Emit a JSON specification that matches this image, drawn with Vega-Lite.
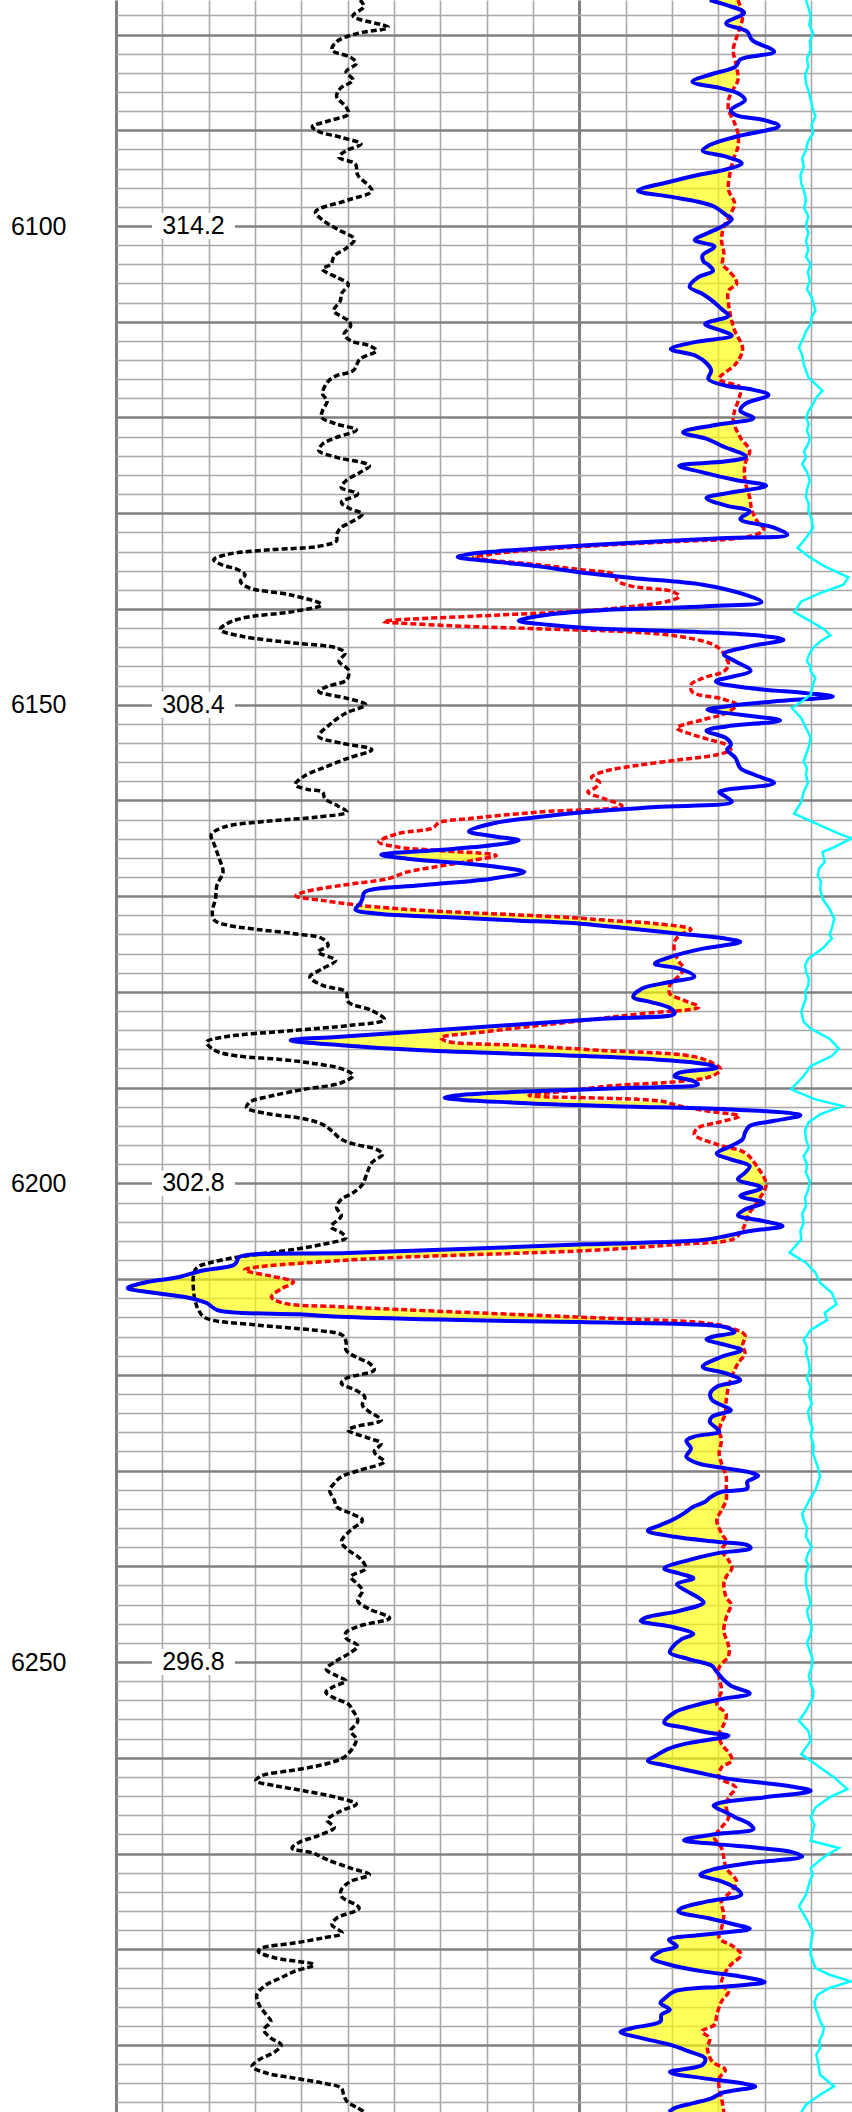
{
"$schema":"https://vega.github.io/schema/vega-lite/v6.json",
"width":736,"height":2112,
"padding":{"left":116,"top":0,"right":0,"bottom":0},
"autosize":{"type":"none"},
"background":"white",
"config":{"view":{"stroke":null}},
"datasets":{
"tvd":[{"depth":6100,"t":"314.2"},{"depth":6150,"t":"308.4"},{"depth":6200,"t":"302.8"},{"depth":6250,"t":"296.8"}],
"gr":[
{"depth":6076.39,"v":520},{"depth":6077.09,"v":528},{"depth":6078.06,"v":505},{"depth":6079.25,"v":580},{"depth":6079.87,"v":515},{"depth":6080.74,"v":470},{"depth":6081.61,"v":460},{"depth":6082.38,"v":500},{"depth":6083.01,"v":512},{"depth":6083.88,"v":490},{"depth":6084.75,"v":505},{"depth":6085.62,"v":478},{"depth":6086.49,"v":470},{"depth":6087.53,"v":490},{"depth":6088.30,"v":495},{"depth":6088.99,"v":455},{"depth":6089.62,"v":418},{"depth":6090.14,"v":432},{"depth":6090.74,"v":480},{"depth":6091.43,"v":522},{"depth":6092.13,"v":490},{"depth":6092.82,"v":475},{"depth":6093.52,"v":510},{"depth":6094.67,"v":515},{"depth":6096.31,"v":545},{"depth":6097.28,"v":495},{"depth":6098.50,"v":425},{"depth":6099.37,"v":440},{"depth":6100.42,"v":475},{"depth":6101.39,"v":508},{"depth":6102.33,"v":490},{"depth":6103.13,"v":465},
{"depth":6103.97,"v":458},{"depth":6104.49,"v":440},{"depth":6105.36,"v":470},{"depth":6106.06,"v":495},{"depth":6107.10,"v":480},{"depth":6107.80,"v":478},{"depth":6108.84,"v":464},{"depth":6109.89,"v":495},{"depth":6110.41,"v":500},{"depth":6111.28,"v":486},{"depth":6111.98,"v":500},{"depth":6112.50,"v":540},{"depth":6113.02,"v":555},{"depth":6113.89,"v":520},{"depth":6115.11,"v":505},{"depth":6115.63,"v":470},{"depth":6116.33,"v":450},{"depth":6117.55,"v":440},{"depth":6118.25,"v":450},{"depth":6119.29,"v":440},{"depth":6119.99,"v":438},{"depth":6120.68,"v":470},{"depth":6121.31,"v":512},{"depth":6122.08,"v":470},{"depth":6122.77,"v":440},{"depth":6123.47,"v":432},{"depth":6124.16,"v":470},{"depth":6125.04,"v":540},{"depth":6125.73,"v":520},{"depth":6126.60,"v":490},{"depth":6127.30,"v":480},{"depth":6127.99,"v":515},{"depth":6128.87,"v":480},{"depth":6129.56,"v":500},{"depth":6130.08,"v":525},{"depth":6130.95,"v":500},
{"depth":6131.55,"v":478},{"depth":6132.25,"v":470},{"depth":6132.87,"v":470},{"depth":6133.47,"v":430},{"depth":6133.81,"v":330},{"depth":6134.27,"v":240},{"depth":6134.86,"v":208},{"depth":6135.38,"v":225},{"depth":6135.90,"v":260},{"depth":6136.42,"v":275},{"depth":6137.12,"v":265},{"depth":6137.82,"v":285},{"depth":6138.51,"v":370},{"depth":6139.56,"v":438},{"depth":6140.25,"v":380},{"depth":6140.95,"v":270},{"depth":6141.65,"v":232},{"depth":6142.17,"v":222},{"depth":6142.87,"v":270},{"depth":6143.56,"v":380},{"depth":6144.08,"v":470},{"depth":6144.61,"v":488},{"depth":6145.48,"v":475},{"depth":6146.35,"v":495},{"depth":6147.39,"v":492},{"depth":6148.09,"v":450},{"depth":6148.61,"v":432},{"depth":6149.31,"v":490},{"depth":6150.00,"v":532},{"depth":6150.87,"v":490},{"depth":6152.09,"v":455},{"depth":6153.31,"v":432},{"depth":6154.01,"v":480},{"depth":6154.70,"v":545},{"depth":6155.58,"v":495},{"depth":6156.62,"v":440},{"depth":6157.49,"v":400},{"depth":6158.36,"v":382},{"depth":6158.87,"v":410},
{"depth":6159.12,"v":440},{"depth":6159.82,"v":445},{"depth":6160.51,"v":470},{"depth":6161.21,"v":492},{"depth":6161.73,"v":430},{"depth":6162.18,"v":320},{"depth":6162.78,"v":230},{"depth":6163.58,"v":203},{"depth":6164.69,"v":210},{"depth":6166.08,"v":220},{"depth":6167.48,"v":228},{"depth":6168.87,"v":215},{"depth":6170.26,"v":212},{"depth":6171.65,"v":205},{"depth":6172.53,"v":210},{"depth":6173.05,"v":240},{"depth":6173.47,"v":300},{"depth":6173.92,"v":380},{"depth":6174.44,"v":440},{"depth":6175.14,"v":452},{"depth":6175.83,"v":430},{"depth":6176.70,"v":468},{"depth":6177.57,"v":440},{"depth":6178.44,"v":413},{"depth":6179.31,"v":440},{"depth":6180.01,"v":490},{"depth":6181.06,"v":495},{"depth":6181.93,"v":545},{"depth":6182.90,"v":572},{"depth":6183.49,"v":500},{"depth":6184.02,"v":380},{"depth":6184.71,"v":230},{"depth":6185.23,"v":193},{"depth":6186.10,"v":210},
{"depth":6186.70,"v":260},{"depth":6187.05,"v":350},{"depth":6187.47,"v":420},{"depth":6188.02,"v":480},{"depth":6188.72,"v":505},{"depth":6189.49,"v":480},{"depth":6190.18,"v":400},{"depth":6190.88,"v":330},{"depth":6191.51,"v":285},{"depth":6192.10,"v":278},{"depth":6192.69,"v":320},{"depth":6193.25,"v":400},{"depth":6193.84,"v":440},{"depth":6194.53,"v":460},{"depth":6195.40,"v":480},{"depth":6195.93,"v":510},{"depth":6196.45,"v":555},{"depth":6196.97,"v":568},{"depth":6197.84,"v":545},{"depth":6198.89,"v":535},{"depth":6200.11,"v":525},{"depth":6200.98,"v":505},{"depth":6201.67,"v":480},{"depth":6202.54,"v":470},{"depth":6203.41,"v":480},{"depth":6204.53,"v":458},{"depth":6205.15,"v":480},{"depth":6205.68,"v":490},{"depth":6206.37,"v":440},{"depth":6206.89,"v":380},{"depth":6207.42,"v":300},{"depth":6207.77,"v":250},{"depth":6208.29,"v":200},{"depth":6208.81,"v":172},{"depth":6209.68,"v":165},{"depth":6211.07,"v":165},{"depth":6212.12,"v":168},{"depth":6213.16,"v":175},{"depth":6214.03,"v":190},
{"depth":6214.80,"v":300},{"depth":6215.32,"v":420},{"depth":6215.85,"v":482},{"depth":6216.54,"v":490},{"depth":6217.41,"v":490},{"depth":6218.11,"v":510},{"depth":6218.81,"v":540},{"depth":6219.50,"v":550},{"depth":6220.37,"v":490},{"depth":6220.90,"v":480},{"depth":6221.59,"v":510},{"depth":6222.29,"v":530},{"depth":6223.16,"v":525},{"depth":6223.86,"v":540},{"depth":6224.73,"v":565},{"depth":6225.42,"v":510},{"depth":6225.77,"v":494},{"depth":6226.64,"v":540},{"depth":6227.16,"v":565},{"depth":6228.03,"v":550},{"depth":6228.56,"v":560},{"depth":6229.08,"v":572},{"depth":6229.95,"v":520},{"depth":6230.64,"v":480},{"depth":6231.34,"v":465},{"depth":6232.04,"v":455},{"depth":6233.08,"v":465},{"depth":6233.78,"v":470},{"depth":6234.47,"v":500},{"depth":6235.17,"v":525},{"depth":6236.22,"v":500},{"depth":6237.43,"v":480},{"depth":6238.31,"v":495},{"depth":6239.18,"v":520},{"depth":6240.22,"v":532},{"depth":6241.09,"v":500},
{"depth":6241.86,"v":515},{"depth":6242.56,"v":525},{"depth":6243.60,"v":515},{"depth":6244.47,"v":540},{"depth":6245.41,"v":583},{"depth":6246.21,"v":520},{"depth":6246.91,"v":490},{"depth":6247.50,"v":490},{"depth":6248.30,"v":515},{"depth":6249.00,"v":500},{"depth":6249.87,"v":470},{"depth":6250.74,"v":448},{"depth":6251.44,"v":470},{"depth":6251.96,"v":490},{"depth":6252.65,"v":460},{"depth":6253.18,"v":447},{"depth":6253.87,"v":470},{"depth":6254.39,"v":495},{"depth":6255.09,"v":505},{"depth":6256.20,"v":515},{"depth":6257.18,"v":500},{"depth":6258.05,"v":512},{"depth":6258.92,"v":505},{"depth":6259.79,"v":490},{"depth":6260.31,"v":470},{"depth":6260.84,"v":430},{"depth":6261.36,"v":370},{"depth":6261.88,"v":310},{"depth":6262.40,"v":298},{"depth":6262.93,"v":340},{"depth":6263.45,"v":400},{"depth":6264.14,"v":470},{"depth":6264.84,"v":512},{"depth":6265.54,"v":480},{"depth":6266.51,"v":450},{"depth":6267.28,"v":465},{"depth":6268.15,"v":430},{"depth":6268.84,"v":390},
{"depth":6269.43,"v":375},{"depth":6269.95,"v":420},{"depth":6270.65,"v":450},{"depth":6271.52,"v":500},{"depth":6272.22,"v":540},{"depth":6272.91,"v":500},{"depth":6273.78,"v":480},{"depth":6274.48,"v":480},{"depth":6275.70,"v":518},{"depth":6276.74,"v":470},{"depth":6277.44,"v":460},{"depth":6278.31,"v":482},{"depth":6278.83,"v":440},{"depth":6279.35,"v":380},{"depth":6279.88,"v":310},{"depth":6280.22,"v":303},{"depth":6280.92,"v":340},{"depth":6281.62,"v":422},{"depth":6282.31,"v":380},{"depth":6283.01,"v":350},{"depth":6283.71,"v":320},{"depth":6284.75,"v":300},{"depth":6285.79,"v":305},{"depth":6286.84,"v":320},{"depth":6287.54,"v":330},{"depth":6288.41,"v":315},{"depth":6289.28,"v":330},{"depth":6289.97,"v":352},{"depth":6290.67,"v":340},{"depth":6291.54,"v":305},{"depth":6292.24,"v":290},{"depth":6292.93,"v":320},{"depth":6293.46,"v":380},{"depth":6293.98,"v":440},{"depth":6294.50,"v":480},{"depth":6295.20,"v":485},{"depth":6295.89,"v":492},{"depth":6296.59,"v":515},{"depth":6297.00,"v":530}
],
"blue":[
{"depth":6076.39,"v":1265,"edge":1325},{"depth":6076.91,"v":1300,"edge":1330},{"depth":6077.71,"v":1338,"edge":1338},{"depth":6078.83,"v":1300,"edge":1330},{"depth":6079.70,"v":1345,"edge":1345},{"depth":6080.57,"v":1355,"edge":1355},{"depth":6081.79,"v":1402,"edge":1402},{"depth":6082.59,"v":1330,"edge":1330},{"depth":6083.35,"v":1320,"edge":1322},{"depth":6084.12,"v":1270,"edge":1324},{"depth":6084.92,"v":1228,"edge":1325},{"depth":6085.62,"v":1290,"edge":1315},{"depth":6086.14,"v":1325,"edge":1325},{"depth":6086.84,"v":1340,"edge":1340},{"depth":6087.88,"v":1310,"edge":1310},{"depth":6088.40,"v":1320,"edge":1320},{"depth":6088.92,"v":1380,"edge":1380},{"depth":6089.55,"v":1412,"edge":1412},{"depth":6090.67,"v":1320,"edge":1325},{"depth":6091.54,"v":1265,"edge":1325},{"depth":6092.13,"v":1250,"edge":1323},{"depth":6092.75,"v":1300,"edge":1318},{"depth":6093.45,"v":1333,"edge":1333},{"depth":6094.08,"v":1300,"edge":1310},{"depth":6094.67,"v":1240,"edge":1308},{"depth":6095.37,"v":1180,"edge":1306},{"depth":6096.31,"v":1112,"edge":1305},{"depth":6096.93,"v":1180,"edge":1310},{"depth":6097.46,"v":1240,"edge":1316},{"depth":6097.98,"v":1275,"edge":1318},{"depth":6098.85,"v":1300,"edge":1308},{"depth":6099.30,"v":1312,"edge":1312},{"depth":6100.07,"v":1290,"edge":1295},{"depth":6100.76,"v":1260,"edge":1292},{"depth":6101.46,"v":1233,"edge":1290},{"depth":6102.16,"v":1275,"edge":1292},{"depth":6103.03,"v":1250,"edge":1295},{"depth":6103.72,"v":1252,"edge":1298},
{"depth":6103.97,"v":1260,"edge":1290},{"depth":6104.67,"v":1272,"edge":1305},{"depth":6105.36,"v":1240,"edge":1320},{"depth":6106.34,"v":1222,"edge":1318},{"depth":6107.10,"v":1250,"edge":1305},{"depth":6107.87,"v":1272,"edge":1305},{"depth":6108.67,"v":1290,"edge":1307},{"depth":6109.37,"v":1305,"edge":1310},{"depth":6110.24,"v":1255,"edge":1314},{"depth":6110.93,"v":1290,"edge":1318},{"depth":6111.46,"v":1312,"edge":1322},{"depth":6112.15,"v":1230,"edge":1328},{"depth":6112.85,"v":1182,"edge":1335},{"depth":6113.55,"v":1235,"edge":1330},{"depth":6114.42,"v":1260,"edge":1320},{"depth":6115.11,"v":1268,"edge":1305},{"depth":6115.98,"v":1262,"edge":1285},{"depth":6116.68,"v":1300,"edge":1322},{"depth":6117.03,"v":1350,"edge":1350},{"depth":6117.65,"v":1390,"edge":1390},{"depth":6118.59,"v":1340,"edge":1340},{"depth":6119.29,"v":1330,"edge":1330},{"depth":6120.06,"v":1358,"edge":1358},{"depth":6120.75,"v":1280,"edge":1318},{"depth":6121.55,"v":1208,"edge":1325},{"depth":6122.25,"v":1260,"edge":1332},{"depth":6122.95,"v":1290,"edge":1340},{"depth":6124.10,"v":1342,"edge":1348},{"depth":6124.58,"v":1300,"edge":1345},{"depth":6125.04,"v":1200,"edge":1340},{"depth":6125.73,"v":1250,"edge":1340},{"depth":6126.53,"v":1320,"edge":1340},{"depth":6127.12,"v":1385,"edge":1385},{"depth":6127.93,"v":1300,"edge":1345},{"depth":6128.41,"v":1258,"edge":1350},{"depth":6129.21,"v":1300,"edge":1352},{"depth":6129.81,"v":1350,"edge":1355},{"depth":6130.61,"v":1330,"edge":1362},{"depth":6131.48,"v":1400,"edge":1400},
{"depth":6132.25,"v":1430,"edge":1430},{"depth":6132.59,"v":1300,"edge":1330},{"depth":6132.94,"v":1150,"edge":1200},{"depth":6133.29,"v":1020,"edge":1060},{"depth":6133.64,"v":910,"edge":950},{"depth":6133.99,"v":810,"edge":850},{"depth":6134.34,"v":745,"edge":790},{"depth":6134.58,"v":728,"edge":765},{"depth":6135.03,"v":800,"edge":830},{"depth":6135.55,"v":900,"edge":900},{"depth":6136.25,"v":1000,"edge":1000},{"depth":6136.77,"v":1100,"edge":1100},{"depth":6137.47,"v":1250,"edge":1250},{"depth":6138.51,"v":1340,"edge":1340},{"depth":6139.28,"v":1375,"edge":1375},{"depth":6139.73,"v":1250,"edge":1250},{"depth":6140.08,"v":1050,"edge":1050},{"depth":6140.60,"v":920,"edge":920},{"depth":6141.23,"v":858,"edge":858},{"depth":6141.65,"v":920,"edge":920},{"depth":6141.99,"v":1000,"edge":1000},{"depth":6142.34,"v":1200,"edge":1200},{"depth":6142.69,"v":1350,"edge":1350},{"depth":6143.21,"v":1422,"edge":1422},{"depth":6143.91,"v":1350,"edge":1350},{"depth":6144.71,"v":1295,"edge":1305},{"depth":6145.48,"v":1320,"edge":1320},{"depth":6146.45,"v":1352,"edge":1352},{"depth":6147.57,"v":1278,"edge":1278},{"depth":6148.26,"v":1350,"edge":1350},{"depth":6148.79,"v":1470,"edge":1470},{"depth":6149.13,"v":1527,"edge":1527},{"depth":6149.66,"v":1400,"edge":1400},{"depth":6150.18,"v":1300,"edge":1320},{"depth":6150.53,"v":1260,"edge":1315},{"depth":6151.05,"v":1330,"edge":1330},{"depth":6151.64,"v":1415,"edge":1415},{"depth":6152.27,"v":1300,"edge":1300},{"depth":6152.72,"v":1258,"edge":1258},{"depth":6153.49,"v":1300,"edge":1300},{"depth":6154.18,"v":1310,"edge":1310},{"depth":6154.70,"v":1302,"edge":1302},{"depth":6155.58,"v":1320,"edge":1320},{"depth":6156.62,"v":1330,"edge":1330},{"depth":6157.32,"v":1360,"edge":1360},{"depth":6158.19,"v":1402,"edge":1402},{"depth":6158.88,"v":1300,"edge":1300},
{"depth":6159.12,"v":1285,"edge":1285},{"depth":6159.64,"v":1300,"edge":1300},{"depth":6160.16,"v":1312,"edge":1312},{"depth":6160.69,"v":1150,"edge":1150},{"depth":6161.21,"v":1000,"edge":1000},{"depth":6161.73,"v":900,"edge":900},{"depth":6162.43,"v":800,"edge":800},{"depth":6163.23,"v":752,"edge":752},{"depth":6163.72,"v":800,"edge":800},{"depth":6164.17,"v":858,"edge":858},{"depth":6164.69,"v":800,"edge":800},{"depth":6165.21,"v":680,"edge":680},{"depth":6165.67,"v":565,"edge":790},{"depth":6166.08,"v":620,"edge":770},{"depth":6166.61,"v":750,"edge":750},{"depth":6167.13,"v":840,"edge":840},{"depth":6167.48,"v":870,"edge":870},{"depth":6168.17,"v":800,"edge":800},{"depth":6168.87,"v":650,"edge":650},{"depth":6169.57,"v":530,"edge":530},{"depth":6170.26,"v":525,"edge":525},{"depth":6170.78,"v":520,"edge":520},{"depth":6171.38,"v":510,"edge":650},{"depth":6171.83,"v":560,"edge":800},{"depth":6172.18,"v":700,"edge":950},{"depth":6172.53,"v":850,"edge":1050},{"depth":6172.87,"v":990,"edge":1150},{"depth":6173.40,"v":1100,"edge":1220},{"depth":6173.92,"v":1200,"edge":1210},{"depth":6174.44,"v":1300,"edge":1300},{"depth":6174.79,"v":1330,"edge":1330},{"depth":6175.48,"v":1250,"edge":1250},{"depth":6176.36,"v":1180,"edge":1190},{"depth":6177.05,"v":1148,"edge":1202},{"depth":6177.57,"v":1200,"edge":1210},{"depth":6178.38,"v":1232,"edge":1232},{"depth":6178.97,"v":1180,"edge":1185},{"depth":6179.66,"v":1120,"edge":1180},{"depth":6180.53,"v":1102,"edge":1195},{"depth":6181.06,"v":1140,"edge":1215},{"depth":6181.68,"v":1180,"edge":1240},{"depth":6182.27,"v":1190,"edge":1190},{"depth":6182.80,"v":1037,"edge":1037},{"depth":6183.49,"v":832,"edge":905},{"depth":6184.19,"v":627,"edge":782},{"depth":6184.71,"v":470,"edge":695},{"depth":6185.06,"v":372,"edge":695},{"depth":6185.58,"v":480,"edge":860},{"depth":6186.10,"v":650,"edge":1030},
{"depth":6186.70,"v":1000,"edge":1225},{"depth":6187.05,"v":1150,"edge":1255},{"depth":6187.57,"v":1260,"edge":1275},{"depth":6187.92,"v":1280,"edge":1285},{"depth":6188.44,"v":1200,"edge":1280},{"depth":6188.79,"v":1190,"edge":1270},{"depth":6189.31,"v":1230,"edge":1230},{"depth":6189.66,"v":1240,"edge":1240},{"depth":6190.01,"v":1100,"edge":1100},{"depth":6190.36,"v":900,"edge":960},{"depth":6190.70,"v":750,"edge":910},{"depth":6191.05,"v":700,"edge":920},{"depth":6191.57,"v":850,"edge":1170},{"depth":6191.92,"v":1050,"edge":1200},{"depth":6192.27,"v":1300,"edge":1300},{"depth":6192.62,"v":1430,"edge":1430},{"depth":6192.90,"v":1458,"edge":1458},{"depth":6193.49,"v":1400,"edge":1400},{"depth":6194.01,"v":1350,"edge":1350},{"depth":6194.71,"v":1340,"edge":1340},{"depth":6195.40,"v":1335,"edge":1335},{"depth":6196.10,"v":1310,"edge":1310},{"depth":6196.90,"v":1280,"edge":1340},{"depth":6197.49,"v":1310,"edge":1352},{"depth":6198.19,"v":1350,"edge":1365},{"depth":6198.89,"v":1340,"edge":1372},{"depth":6199.58,"v":1325,"edge":1380},{"depth":6200.45,"v":1375,"edge":1384},{"depth":6201.32,"v":1330,"edge":1373},{"depth":6202.02,"v":1380,"edge":1380},{"depth":6202.72,"v":1340,"edge":1355},{"depth":6203.34,"v":1325,"edge":1348},{"depth":6203.94,"v":1380,"edge":1380},{"depth":6204.46,"v":1420,"edge":1420},{"depth":6204.98,"v":1350,"edge":1350},{"depth":6205.50,"v":1300,"edge":1322},{"depth":6205.92,"v":1250,"edge":1305},{"depth":6206.37,"v":1000,"edge":1200},{"depth":6206.83,"v":750,"edge":1027},{"depth":6207.28,"v":494,"edge":867},{"depth":6207.70,"v":262,"edge":654},{"depth":6208.11,"v":258,"edge":470},{"depth":6208.53,"v":251,"edge":384},{"depth":6209.16,"v":180,"edge":285},{"depth":6209.78,"v":135,"edge":335},{"depth":6210.38,"v":60,"edge":378},{"depth":6210.93,"v":25,"edge":359},{"depth":6211.42,"v":80,"edge":345},{"depth":6211.87,"v":147,"edge":331},{"depth":6212.50,"v":193,"edge":356},{"depth":6213.23,"v":216,"edge":660},{"depth":6213.68,"v":390,"edge":850},{"depth":6213.96,"v":494,"edge":980},{"depth":6214.28,"v":737,"edge":1100},
{"depth":6214.49,"v":988,"edge":1210},{"depth":6214.80,"v":1259,"edge":1280},{"depth":6215.05,"v":1300,"edge":1305},{"depth":6215.53,"v":1318,"edge":1335},{"depth":6216.02,"v":1270,"edge":1345},{"depth":6216.30,"v":1258,"edge":1343},{"depth":6216.89,"v":1300,"edge":1335},{"depth":6217.41,"v":1332,"edge":1338},{"depth":6218.11,"v":1290,"edge":1335},{"depth":6219.15,"v":1250,"edge":1323},{"depth":6219.85,"v":1300,"edge":1315},{"depth":6220.55,"v":1330,"edge":1330},{"depth":6221.24,"v":1280,"edge":1305},{"depth":6221.94,"v":1266,"edge":1302},{"depth":6222.64,"v":1270,"edge":1300},{"depth":6223.16,"v":1290,"edge":1300},{"depth":6223.68,"v":1310,"edge":1310},{"depth":6224.38,"v":1270,"edge":1296},{"depth":6224.90,"v":1265,"edge":1292},{"depth":6225.60,"v":1280,"edge":1287},{"depth":6225.94,"v":1285,"edge":1285},{"depth":6226.47,"v":1230,"edge":1288},{"depth":6226.88,"v":1215,"edge":1290},{"depth":6227.69,"v":1225,"edge":1288},{"depth":6228.56,"v":1215,"edge":1285},{"depth":6229.25,"v":1240,"edge":1290},{"depth":6229.77,"v":1300,"edge":1300},{"depth":6230.19,"v":1350,"edge":1350},{"depth":6230.54,"v":1368,"edge":1368},{"depth":6231.17,"v":1345,"edge":1345},{"depth":6231.86,"v":1345,"edge":1345},{"depth":6232.21,"v":1290,"edge":1300},{"depth":6232.73,"v":1268,"edge":1300},{"depth":6233.26,"v":1255,"edge":1298},{"depth":6233.78,"v":1230,"edge":1293},{"depth":6234.47,"v":1210,"edge":1288},{"depth":6235.17,"v":1185,"edge":1280},{"depth":6235.69,"v":1160,"edge":1283},{"depth":6236.29,"v":1133,"edge":1287},{"depth":6236.91,"v":1190,"edge":1293},{"depth":6237.43,"v":1280,"edge":1300},{"depth":6237.78,"v":1345,"edge":1345},{"depth":6238.10,"v":1352,"edge":1352},{"depth":6238.65,"v":1280,"edge":1295},{"depth":6239.35,"v":1220,"edge":1305},{"depth":6240.22,"v":1168,"edge":1312},{"depth":6240.74,"v":1200,"edge":1305},{"depth":6241.26,"v":1230,"edge":1300},
{"depth":6241.86,"v":1195,"edge":1295},{"depth":6242.56,"v":1215,"edge":1297},{"depth":6243.25,"v":1240,"edge":1300},{"depth":6243.78,"v":1252,"edge":1308},{"depth":6244.65,"v":1200,"edge":1305},{"depth":6245.34,"v":1130,"edge":1300},{"depth":6245.69,"v":1118,"edge":1300},{"depth":6246.39,"v":1190,"edge":1297},{"depth":6247.08,"v":1230,"edge":1297},{"depth":6247.61,"v":1205,"edge":1300},{"depth":6248.48,"v":1185,"edge":1305},{"depth":6249.00,"v":1180,"edge":1305},{"depth":6249.69,"v":1220,"edge":1302},{"depth":6250.39,"v":1270,"edge":1290},{"depth":6250.91,"v":1278,"edge":1285},{"depth":6251.61,"v":1290,"edge":1290},{"depth":6252.48,"v":1310,"edge":1310},{"depth":6253.28,"v":1350,"edge":1350},{"depth":6253.87,"v":1290,"edge":1290},{"depth":6254.57,"v":1230,"edge":1280},{"depth":6255.27,"v":1190,"edge":1296},{"depth":6256.31,"v":1168,"edge":1296},{"depth":6256.83,"v":1210,"edge":1292},{"depth":6257.35,"v":1260,"edge":1288},{"depth":6257.70,"v":1305,"edge":1305},{"depth":6258.22,"v":1250,"edge":1288},{"depth":6258.57,"v":1210,"edge":1290},{"depth":6259.10,"v":1175,"edge":1298},{"depth":6259.79,"v":1150,"edge":1308},{"depth":6260.31,"v":1133,"edge":1312},{"depth":6260.84,"v":1175,"edge":1295},{"depth":6261.53,"v":1240,"edge":1287},{"depth":6262.23,"v":1310,"edge":1310},{"depth":6262.93,"v":1430,"edge":1430},{"depth":6263.45,"v":1480,"edge":1480},{"depth":6264.14,"v":1380,"edge":1380},{"depth":6264.67,"v":1290,"edge":1302},{"depth":6265.01,"v":1273,"edge":1300},{"depth":6265.71,"v":1300,"edge":1302},{"depth":6266.23,"v":1320,"edge":1320},{"depth":6266.93,"v":1350,"edge":1350},{"depth":6267.45,"v":1358,"edge":1358},{"depth":6267.97,"v":1280,"edge":1282},{"depth":6268.60,"v":1210,"edge":1275},{"depth":6269.02,"v":1280,"edge":1280},
{"depth":6269.43,"v":1370,"edge":1370},{"depth":6269.85,"v":1440,"edge":1440},{"depth":6270.30,"v":1462,"edge":1462},{"depth":6271.00,"v":1350,"edge":1350},{"depth":6271.69,"v":1270,"edge":1300},{"depth":6272.22,"v":1245,"edge":1310},{"depth":6272.91,"v":1290,"edge":1322},{"depth":6273.61,"v":1320,"edge":1320},{"depth":6274.30,"v":1332,"edge":1332},{"depth":6275.00,"v":1260,"edge":1290},{"depth":6275.70,"v":1205,"edge":1292},{"depth":6276.05,"v":1198,"edge":1294},{"depth":6276.74,"v":1260,"edge":1293},{"depth":6277.44,"v":1320,"edge":1320},{"depth":6277.86,"v":1350,"edge":1350},{"depth":6278.48,"v":1250,"edge":1287},{"depth":6279.01,"v":1178,"edge":1290},{"depth":6279.70,"v":1195,"edge":1315},{"depth":6280.22,"v":1160,"edge":1325},{"depth":6280.92,"v":1142,"edge":1330},{"depth":6281.62,"v":1180,"edge":1310},{"depth":6282.31,"v":1250,"edge":1300},{"depth":6282.84,"v":1330,"edge":1330},{"depth":6283.43,"v":1382,"edge":1382},{"depth":6283.88,"v":1300,"edge":1300},{"depth":6284.40,"v":1190,"edge":1305},{"depth":6285.10,"v":1170,"edge":1295},{"depth":6285.62,"v":1160,"edge":1290},{"depth":6286.32,"v":1180,"edge":1285},{"depth":6286.84,"v":1162,"edge":1280},{"depth":6287.54,"v":1160,"edge":1277},{"depth":6288.23,"v":1100,"edge":1260},{"depth":6288.65,"v":1075,"edge":1248},{"depth":6289.28,"v":1120,"edge":1265},{"depth":6289.97,"v":1180,"edge":1262},{"depth":6290.67,"v":1220,"edge":1262},{"depth":6291.37,"v":1255,"edge":1268},{"depth":6292.06,"v":1250,"edge":1285},{"depth":6292.83,"v":1180,"edge":1295},{"depth":6293.46,"v":1250,"edge":1285},{"depth":6293.98,"v":1330,"edge":1330},{"depth":6294.33,"v":1362,"edge":1362},{"depth":6295.02,"v":1290,"edge":1290},{"depth":6295.54,"v":1270,"edge":1290},{"depth":6296.07,"v":1230,"edge":1292},{"depth":6296.59,"v":1190,"edge":1294},{"depth":6297.01,"v":1178,"edge":1295}
],
"red":[
{"depth":6076.39,"v":1325},{"depth":6078.13,"v":1335},{"depth":6079.87,"v":1325},{"depth":6081.61,"v":1315},{"depth":6083.35,"v":1322},{"depth":6084.75,"v":1325},{"depth":6086.14,"v":1310},{"depth":6086.84,"v":1305},{"depth":6087.88,"v":1305},{"depth":6088.92,"v":1315},{"depth":6090.32,"v":1325},{"depth":6091.71,"v":1325},{"depth":6093.10,"v":1315},{"depth":6094.50,"v":1308},{"depth":6096.24,"v":1305},{"depth":6097.63,"v":1318},{"depth":6098.67,"v":1310},{"depth":6100.07,"v":1295},{"depth":6101.46,"v":1290},{"depth":6102.85,"v":1295},
{"depth":6103.97,"v":1292},{"depth":6104.67,"v":1305},{"depth":6105.54,"v":1320},{"depth":6106.06,"v":1322},{"depth":6106.76,"v":1305},{"depth":6108.15,"v":1305},{"depth":6109.54,"v":1310},{"depth":6110.93,"v":1318},{"depth":6112.85,"v":1335},{"depth":6114.42,"v":1320},{"depth":6115.98,"v":1285},{"depth":6116.85,"v":1330},{"depth":6117.90,"v":1328},{"depth":6119.29,"v":1318},{"depth":6120.34,"v":1315},{"depth":6122.08,"v":1330},{"depth":6123.47,"v":1350},{"depth":6124.86,"v":1340},{"depth":6126.60,"v":1340},{"depth":6128.34,"v":1350},{"depth":6129.74,"v":1355},{"depth":6131.13,"v":1370},
{"depth":6131.55,"v":1380},{"depth":6131.97,"v":1375},{"depth":6132.59,"v":1330},{"depth":6132.94,"v":1200},{"depth":6133.29,"v":1060},{"depth":6133.64,"v":950},{"depth":6133.99,"v":850},{"depth":6134.34,"v":790},{"depth":6134.61,"v":762},{"depth":6134.86,"v":790},{"depth":6135.38,"v":900},{"depth":6135.90,"v":990},{"depth":6136.42,"v":1062},{"depth":6137.05,"v":1068},{"depth":6137.64,"v":1100},{"depth":6138.17,"v":1185},{"depth":6138.69,"v":1200},{"depth":6139.14,"v":1180},{"depth":6139.73,"v":1100},{"depth":6140.18,"v":1000},{"depth":6140.67,"v":800},{"depth":6141.30,"v":570},{"depth":6141.72,"v":700},{"depth":6142.07,"v":900},{"depth":6142.41,"v":1100},{"depth":6142.87,"v":1200},{"depth":6143.67,"v":1270},{"depth":6144.36,"v":1290},{"depth":6145.13,"v":1300},{"depth":6145.83,"v":1305},{"depth":6146.52,"v":1295},{"depth":6147.22,"v":1250},{"depth":6147.91,"v":1225},{"depth":6148.68,"v":1228},{"depth":6149.38,"v":1290},{"depth":6150.00,"v":1322},{"depth":6150.87,"v":1300},{"depth":6151.57,"v":1250},{"depth":6152.44,"v":1195},{"depth":6153.07,"v":1225},{"depth":6153.66,"v":1265},{"depth":6154.18,"v":1300},{"depth":6154.70,"v":1310},{"depth":6155.23,"v":1280},{"depth":6155.75,"v":1200},{"depth":6156.34,"v":1110},{"depth":6156.97,"v":1040},{"depth":6157.59,"v":1013},{"depth":6158.08,"v":1030},{"depth":6158.64,"v":1022},
{"depth":6159.12,"v":1005},{"depth":6159.82,"v":1040},{"depth":6160.58,"v":1078},{"depth":6161.21,"v":900},{"depth":6161.91,"v":750},{"depth":6162.32,"v":688},{"depth":6162.88,"v":675},{"depth":6163.47,"v":600},{"depth":6164.34,"v":560},{"depth":6164.87,"v":600},{"depth":6165.21,"v":680},{"depth":6165.74,"v":810},{"depth":6166.26,"v":760},{"depth":6166.78,"v":700},{"depth":6167.48,"v":620},{"depth":6168.17,"v":580},{"depth":6168.87,"v":480},{"depth":6169.57,"v":400},{"depth":6169.98,"v":383},{"depth":6170.44,"v":440},{"depth":6170.96,"v":520},{"depth":6171.48,"v":650},{"depth":6171.83,"v":800},{"depth":6172.18,"v":950},{"depth":6172.53,"v":1050},{"depth":6172.87,"v":1150},{"depth":6173.47,"v":1225},{"depth":6174.09,"v":1200},{"depth":6174.79,"v":1190},{"depth":6175.83,"v":1190},{"depth":6176.88,"v":1200},{"depth":6177.57,"v":1210},{"depth":6178.27,"v":1200},{"depth":6179.31,"v":1180},{"depth":6180.19,"v":1180},{"depth":6180.88,"v":1210},{"depth":6181.58,"v":1242},{"depth":6182.27,"v":1120},{"depth":6182.80,"v":1027},{"depth":6183.49,"v":905},{"depth":6184.19,"v":782},{"depth":6184.78,"v":692},{"depth":6185.16,"v":705},{"depth":6185.58,"v":860},{"depth":6186.10,"v":1030},
{"depth":6186.70,"v":1225},{"depth":6187.40,"v":1270},{"depth":6188.09,"v":1288},{"depth":6188.79,"v":1270},{"depth":6189.31,"v":1210},{"depth":6189.83,"v":1050},{"depth":6190.36,"v":960},{"depth":6190.81,"v":880},{"depth":6191.40,"v":1160},{"depth":6191.92,"v":1200},{"depth":6192.45,"v":1260},{"depth":6192.97,"v":1328},{"depth":6193.66,"v":1280},{"depth":6194.19,"v":1240},{"depth":6194.88,"v":1232},{"depth":6195.93,"v":1280},{"depth":6196.80,"v":1340},{"depth":6198.19,"v":1365},{"depth":6200.11,"v":1385},{"depth":6201.67,"v":1370},{"depth":6203.07,"v":1350},{"depth":6204.81,"v":1335},{"depth":6205.68,"v":1320},{"depth":6206.02,"v":1300},{"depth":6206.37,"v":1200},{"depth":6206.96,"v":1027},{"depth":6208.01,"v":494},{"depth":6209.05,"v":274},{"depth":6209.68,"v":330},{"depth":6210.31,"v":378},{"depth":6211.07,"v":350},{"depth":6211.87,"v":331},{"depth":6212.50,"v":356},{"depth":6212.92,"v":494},{"depth":6213.96,"v":980},
{"depth":6214.59,"v":1258},{"depth":6214.98,"v":1300},{"depth":6215.85,"v":1340},{"depth":6216.89,"v":1335},{"depth":6217.76,"v":1340},{"depth":6218.81,"v":1325},{"depth":6219.85,"v":1315},{"depth":6221.24,"v":1305},{"depth":6222.64,"v":1300},{"depth":6224.03,"v":1298},{"depth":6225.77,"v":1285},{"depth":6226.81,"v":1290},{"depth":6228.21,"v":1285},{"depth":6229.25,"v":1290},{"depth":6230.64,"v":1300},{"depth":6231.69,"v":1300},{"depth":6233.08,"v":1300},{"depth":6234.13,"v":1290},{"depth":6235.17,"v":1280},{"depth":6236.56,"v":1290},{"depth":6237.43,"v":1300},{"depth":6238.31,"v":1290},{"depth":6239.35,"v":1305},{"depth":6240.22,"v":1312},{"depth":6241.09,"v":1300},
{"depth":6241.86,"v":1295},{"depth":6243.25,"v":1300},{"depth":6243.95,"v":1310},{"depth":6245.34,"v":1300},{"depth":6246.73,"v":1295},{"depth":6248.30,"v":1305},{"depth":6249.35,"v":1305},{"depth":6250.56,"v":1285},{"depth":6251.61,"v":1285},{"depth":6253.00,"v":1290},{"depth":6254.39,"v":1280},{"depth":6255.44,"v":1300},{"depth":6256.48,"v":1295},{"depth":6257.53,"v":1285},{"depth":6258.57,"v":1290},{"depth":6259.62,"v":1308},{"depth":6260.31,"v":1312},{"depth":6261.01,"v":1290},{"depth":6262.05,"v":1285},{"depth":6263.10,"v":1320},{"depth":6264.14,"v":1305},{"depth":6265.19,"v":1300},{"depth":6266.23,"v":1305},{"depth":6267.28,"v":1290},{"depth":6268.32,"v":1275},
{"depth":6269.43,"v":1290},{"depth":6270.47,"v":1295},{"depth":6271.52,"v":1300},{"depth":6272.91,"v":1322},{"depth":6273.96,"v":1310},{"depth":6275.00,"v":1290},{"depth":6276.39,"v":1295},{"depth":6277.79,"v":1290},{"depth":6278.83,"v":1285},{"depth":6279.70,"v":1315},{"depth":6280.57,"v":1332},{"depth":6281.62,"v":1310},{"depth":6282.66,"v":1295},{"depth":6283.71,"v":1290},{"depth":6284.40,"v":1305},{"depth":6285.45,"v":1290},{"depth":6286.84,"v":1280},{"depth":6287.88,"v":1275},{"depth":6288.58,"v":1248},{"depth":6289.28,"v":1265},{"depth":6290.32,"v":1260},{"depth":6291.72,"v":1270},{"depth":6292.59,"v":1298},{"depth":6293.46,"v":1285},{"depth":6294.50,"v":1285},{"depth":6295.54,"v":1290},{"depth":6297.01,"v":1295}
],
"cyan":[
{"depth":6076.39,"v":1470},{"depth":6077.3,"v":1476},{"depth":6078.13,"v":1480},{"depth":6079.0,"v":1477},{"depth":6079.87,"v":1485},{"depth":6080.7,"v":1478},{"depth":6081.61,"v":1480},{"depth":6082.5,"v":1472},{"depth":6083.35,"v":1475},{"depth":6084.2,"v":1468},{"depth":6085.09,"v":1470},{"depth":6086.0,"v":1476},{"depth":6086.84,"v":1480},{"depth":6087.7,"v":1484},{"depth":6088.58,"v":1490},{"depth":6089.4,"v":1482},{"depth":6090.32,"v":1485},{"depth":6091.2,"v":1474},{"depth":6092.06,"v":1470},{"depth":6092.9,"v":1462},{"depth":6093.80,"v":1465},{"depth":6094.7,"v":1458},{"depth":6095.54,"v":1460},{"depth":6096.4,"v":1466},{"depth":6097.28,"v":1470},{"depth":6098.1,"v":1466},{"depth":6099.02,"v":1475},{"depth":6099.9,"v":1470},{"depth":6100.76,"v":1475},{"depth":6101.6,"v":1470},{"depth":6102.50,"v":1475},{"depth":6103.2,"v":1470},
{"depth":6103.97,"v":1480},{"depth":6104.8,"v":1474},{"depth":6105.71,"v":1478},{"depth":6106.6,"v":1472},{"depth":6107.45,"v":1482},{"depth":6108.84,"v":1490},{"depth":6109.5,"v":1482},{"depth":6110.24,"v":1480},{"depth":6111.0,"v":1470},{"depth":6111.63,"v":1465},{"depth":6112.67,"v":1455},{"depth":6113.5,"v":1462},{"depth":6114.42,"v":1465},{"depth":6115.1,"v":1470},{"depth":6115.81,"v":1475},{"depth":6116.5,"v":1490},{"depth":6117.20,"v":1505},{"depth":6117.9,"v":1492},{"depth":6118.59,"v":1485},{"depth":6119.3,"v":1476},{"depth":6119.99,"v":1470},{"depth":6120.7,"v":1476},{"depth":6121.38,"v":1472},{"depth":6122.1,"v":1478},{"depth":6122.77,"v":1475},{"depth":6123.5,"v":1466},{"depth":6124.16,"v":1470},{"depth":6124.86,"v":1462},{"depth":6125.7,"v":1472},{"depth":6126.60,"v":1478},{"depth":6127.5,"v":1472},{"depth":6128.34,"v":1470},{"depth":6129.0,"v":1476},{"depth":6129.74,"v":1475},{"depth":6130.6,"v":1482},
{"depth":6131.55,"v":1485},{"depth":6132.59,"v":1470},{"depth":6133.64,"v":1452},{"depth":6134.68,"v":1480},{"depth":6135.55,"v":1510},{"depth":6136.70,"v":1560},{"depth":6137.47,"v":1550},{"depth":6138.34,"v":1500},{"depth":6139.21,"v":1460},{"depth":6140.32,"v":1445},{"depth":6141.30,"v":1480},{"depth":6142.17,"v":1510},{"depth":6142.76,"v":1522},{"depth":6143.4,"v":1500},{"depth":6144.08,"v":1485},{"depth":6144.8,"v":1476},{"depth":6145.48,"v":1472},{"depth":6146.0,"v":1480},{"depth":6146.52,"v":1480},{"depth":6147.2,"v":1490},{"depth":6147.91,"v":1485},{"depth":6148.96,"v":1480},{"depth":6149.7,"v":1460},{"depth":6150.35,"v":1440},{"depth":6151.40,"v":1460},{"depth":6152.44,"v":1470},{"depth":6153.0,"v":1476},{"depth":6153.49,"v":1480},{"depth":6154.53,"v":1475},{"depth":6155.2,"v":1470},{"depth":6155.92,"v":1465},{"depth":6156.6,"v":1472},{"depth":6157.32,"v":1470},{"depth":6158.2,"v":1474},
{"depth":6159.12,"v":1465},{"depth":6160.16,"v":1460},{"depth":6161.38,"v":1445},{"depth":6162.60,"v":1500},{"depth":6163.47,"v":1540},{"depth":6163.97,"v":1567},{"depth":6164.87,"v":1530},{"depth":6165.39,"v":1505},{"depth":6166.43,"v":1510},{"depth":6167.1,"v":1498},{"depth":6167.82,"v":1495},{"depth":6168.5,"v":1502},{"depth":6169.22,"v":1500},{"depth":6170.26,"v":1505},{"depth":6171.31,"v":1520},{"depth":6172.35,"v":1530},{"depth":6173.40,"v":1525},{"depth":6174.0,"v":1520},{"depth":6174.44,"v":1525},{"depth":6175.48,"v":1505},{"depth":6176.53,"v":1475},{"depth":6177.2,"v":1468},{"depth":6177.92,"v":1470},{"depth":6178.6,"v":1476},{"depth":6179.31,"v":1475},{"depth":6180.0,"v":1468},{"depth":6180.71,"v":1470},{"depth":6181.4,"v":1464},{"depth":6182.10,"v":1460},{"depth":6183.14,"v":1465},{"depth":6183.84,"v":1480},{"depth":6184.89,"v":1520},{"depth":6185.93,"v":1540},
{"depth":6186.70,"v":1525},{"depth":6187.74,"v":1480},{"depth":6188.79,"v":1465},{"depth":6190.18,"v":1438},{"depth":6191.23,"v":1490},{"depth":6191.92,"v":1548},{"depth":6192.79,"v":1500},{"depth":6193.66,"v":1475},{"depth":6194.5,"v":1468},{"depth":6195.40,"v":1470},{"depth":6196.3,"v":1476},{"depth":6197.15,"v":1465},{"depth":6198.0,"v":1472},{"depth":6198.89,"v":1470},{"depth":6199.8,"v":1478},{"depth":6200.63,"v":1475},{"depth":6201.5,"v":1468},{"depth":6202.37,"v":1470},{"depth":6203.2,"v":1462},{"depth":6204.11,"v":1465},{"depth":6205.0,"v":1458},{"depth":6205.85,"v":1460},{"depth":6207.24,"v":1435},{"depth":6208.29,"v":1470},{"depth":6209.33,"v":1490},{"depth":6210.38,"v":1500},{"depth":6211.42,"v":1525},{"depth":6212.64,"v":1535},{"depth":6213.51,"v":1510},
{"depth":6214.28,"v":1515},{"depth":6215.32,"v":1480},{"depth":6216.37,"v":1465},{"depth":6217.1,"v":1472},{"depth":6217.76,"v":1470},{"depth":6218.6,"v":1476},{"depth":6219.50,"v":1478},{"depth":6220.4,"v":1472},{"depth":6221.24,"v":1480},{"depth":6222.1,"v":1476},{"depth":6222.98,"v":1482},{"depth":6223.9,"v":1474},{"depth":6224.73,"v":1478},{"depth":6225.6,"v":1484},{"depth":6226.47,"v":1480},{"depth":6227.3,"v":1486},{"depth":6228.21,"v":1485},{"depth":6229.60,"v":1495},{"depth":6230.64,"v":1500},{"depth":6232.04,"v":1490},{"depth":6233.0,"v":1478},{"depth":6233.78,"v":1470},{"depth":6234.5,"v":1462},{"depth":6235.17,"v":1465},{"depth":6236.0,"v":1472},{"depth":6236.91,"v":1470},{"depth":6237.96,"v":1482},{"depth":6238.7,"v":1474},{"depth":6239.35,"v":1470},{"depth":6240.0,"v":1476},{"depth":6240.74,"v":1470},
{"depth":6241.86,"v":1470},{"depth":6242.90,"v":1475},{"depth":6243.95,"v":1480},{"depth":6244.6,"v":1472},{"depth":6245.34,"v":1475},{"depth":6246.2,"v":1482},{"depth":6247.08,"v":1480},{"depth":6248.0,"v":1472},{"depth":6248.82,"v":1478},{"depth":6249.7,"v":1484},{"depth":6250.56,"v":1482},{"depth":6251.4,"v":1476},{"depth":6252.31,"v":1480},{"depth":6253.0,"v":1486},{"depth":6253.70,"v":1485},{"depth":6255.09,"v":1470},{"depth":6256.14,"v":1455},{"depth":6257.18,"v":1475},{"depth":6258.22,"v":1480},{"depth":6259.62,"v":1460},{"depth":6261.01,"v":1500},{"depth":6262.05,"v":1530},{"depth":6263.27,"v":1558},{"depth":6264.14,"v":1520},{"depth":6265.19,"v":1490},{"depth":6266.23,"v":1480},{"depth":6267.0,"v":1488},{"depth":6267.62,"v":1485},{"depth":6268.67,"v":1480},
{"depth":6269.43,"v":1540},{"depth":6270.30,"v":1510},{"depth":6271.52,"v":1480},{"depth":6272.2,"v":1484},{"depth":6272.91,"v":1478},{"depth":6274.30,"v":1470},{"depth":6275.52,"v":1455},{"depth":6276.74,"v":1470},{"depth":6278.13,"v":1485},{"depth":6279.53,"v":1480},{"depth":6280.57,"v":1480},{"depth":6281.96,"v":1490},{"depth":6282.66,"v":1520},{"depth":6283.36,"v":1565},{"depth":6284.05,"v":1520},{"depth":6284.75,"v":1495},{"depth":6285.5,"v":1488},{"depth":6286.14,"v":1490},{"depth":6286.9,"v":1496},{"depth":6287.54,"v":1500},{"depth":6288.2,"v":1508},{"depth":6288.93,"v":1505},{"depth":6289.6,"v":1498},{"depth":6290.32,"v":1500},{"depth":6291.0,"v":1492},{"depth":6291.72,"v":1495},{"depth":6293.11,"v":1500},{"depth":6294.33,"v":1530},{"depth":6295.20,"v":1500},{"depth":6296.24,"v":1470},{"depth":6297.01,"v":1460}
]
},
"encoding":{
"y":{"field":"depth","type":"quantitative","scale":{"domain":[6076.39,6297.0],"reverse":true,"nice":false,"zero":false},
"axis":{"values":[6078,6080,6082,6084,6086,6088,6090,6092,6094,6096,6098,6100,6102,6104,6106,6108,6110,6112,6114,6116,6118,6120,6122,6124,6126,6128,6130,6132,6134,6136,6138,6140,6142,6144,6146,6148,6150,6152,6154,6156,6158,6160,6162,6164,6166,6168,6170,6172,6174,6176,6178,6180,6182,6184,6186,6188,6190,6192,6194,6196,6198,6200,6202,6204,6206,6208,6210,6212,6214,6216,6218,6220,6222,6224,6226,6228,6230,6232,6234,6236,6238,6240,6242,6244,6246,6248,6250,6252,6254,6256,6258,6260,6262,6264,6266,6268,6270,6272,6274,6276,6278,6280,6282,6284,6286,6288,6290,6292,6294,6296],
"grid":true,"ticks":false,"tickSize":0,"domain":false,"title":null,
"labelExpr":"datum.value % 50 === 0 ? '' + datum.value : ''",
"labelFont":"Liberation Sans","labelFontSize":25,"labelColor":"black","labelPadding":50,"labelOverlap":false,"labelFlush":false,"labelBound":false,
"gridColor":{"condition":{"test":"datum.value % 10 === 0","value":"#808080"},"value":"#a9a9a9"},
"gridWidth":{"condition":{"test":"datum.value % 10 === 0","value":2.5},"value":1.6}}}
},
"layer":[
{"data":{"name":"blue"},"mark":{"type":"area","orient":"horizontal","interpolate":"catmull-rom","fill":"#ffff00","opacity":0.65,"clip":true},
"encoding":{
"x":{"field":"v","type":"quantitative","scale":{"domain":[0,1568],"nice":false,"zero":false},
"axis":{"values":[0,98.7,197.4,296.1,394.8,493.5,592.2,690.9,789.6,888.3,987,1085.7,1184.4,1283.1,1381.8,1480.5],"grid":true,"labels":false,"ticks":false,"tickSize":0,"domain":false,"title":null,
"gridColor":{"condition":{"test":"datum.value === 0 || datum.value === 987","value":"#808080"},"value":"#a9a9a9"},
"gridWidth":{"condition":{"test":"datum.value === 0 || datum.value === 987","value":3},"value":1.6}}},
"x2":{"field":"edge"}
}},
{"data":{"name":"tvd"},"mark":{"type":"point","shape":"M-1,-0.313H1V0.313H-1Z","size":6889,"filled":true,"fill":"white","opacity":1,"strokeWidth":0},
"encoding":{"x":{"datum":165,"type":"quantitative"}}},
{"data":{"name":"tvd"},"mark":{"type":"text","fontSize":25,"font":"Liberation Sans","align":"center","baseline":"middle","color":"black"},
"encoding":{"x":{"datum":165,"type":"quantitative"},"text":{"field":"t","type":"nominal"}}},
{"data":{"name":"gr"},"mark":{"type":"line","color":"black","strokeWidth":3.5,"strokeDash":[6,3],"interpolate":"catmull-rom","clip":true},
"encoding":{"x":{"field":"v","type":"quantitative"},"order":{"field":"depth","type":"quantitative"}}},
{"data":{"name":"red"},"mark":{"type":"line","color":"#ff0000","strokeWidth":3.5,"strokeDash":[6,3],"interpolate":"catmull-rom","clip":true},
"encoding":{"x":{"field":"v","type":"quantitative"},"order":{"field":"depth","type":"quantitative"}}},
{"data":{"name":"blue"},"mark":{"type":"line","color":"#0000ff","strokeWidth":4,"interpolate":"catmull-rom","clip":true},
"encoding":{"x":{"field":"v","type":"quantitative"},"order":{"field":"depth","type":"quantitative"}}},
{"data":{"name":"cyan"},"mark":{"type":"line","color":"#00ffff","strokeWidth":2.5,"clip":true},
"encoding":{"x":{"field":"v","type":"quantitative"},"order":{"field":"depth","type":"quantitative"}}}
]
}
